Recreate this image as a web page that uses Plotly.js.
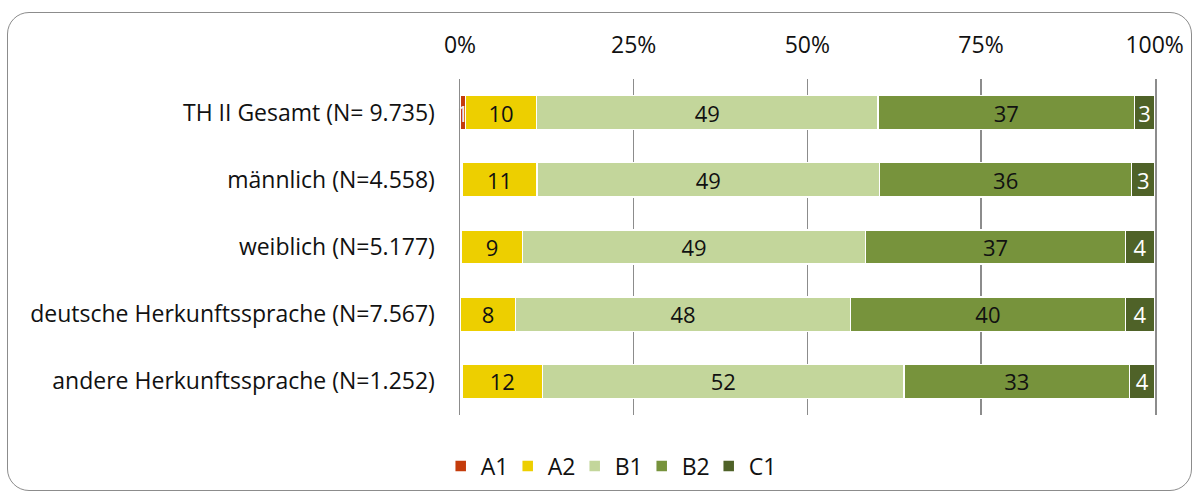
<!DOCTYPE html>
<html>
<head>
<meta charset="utf-8">
<script src="https://cdn.plot.ly/plotly-3.0.1.min.js"></script>
<style>
  html, body { margin:0; padding:0; background:#fff; }
  #wrap { position:relative; width:1202px; height:499px; }
  #chart { width:1202px; height:499px; }
  #frame { position:absolute; left:7px; top:12px; width:1185px; height:479px;
           border:1.5px solid #8c8c8c; border-radius:22px; pointer-events:none; box-sizing:border-box; }
</style>
</head>
<body>
<div id="wrap">
  <div id="chart"></div>
  <div id="frame"></div>
</div>
<script>
const categories = [
  'TH II Gesamt (N= 9.735)',
  'männlich (N=4.558)',
  'weiblich (N=5.177)',
  'deutsche Herkunftssprache (N=7.567)',
  'andere Herkunftssprache (N=1.252)'
];
const seriesNames = ['A1', 'A2', 'B1', 'B2', 'C1'];
const A1 = [0.8, 0.3, 0.2, 0.1, 0.3];
const A2 = [10.2, 10.8, 8.8, 7.9, 11.6];
const B1 = [49.2, 49.3, 49.4, 48.2, 52.0];
const B2 = [36.9, 36.3, 37.4, 39.6, 32.5];
const C1 = [2.9, 3.3, 4.2, 4.2, 3.6];
const A1labels = ['1', '', '', '', ''];
const tickLabels = ['0%', '25%', '50%', '75%', '100%'];
const tickValues = [0, 25, 50, 75, 100];

const colors = ['#C43C0C', '#EDCF00', '#C3D69B', '#77933C', '#4F6228'];
const textColors = ['#f2f2f2', '#111111', '#111111', '#111111', '#ffffff'];
const values = [A1, A2, B1, B2, C1];
const FONT = 'Open Sans, Noto Sans, sans-serif';
const FS = 22;
const FS_CAT = 23;

const traces = values.map((v, i) => {
  const t = {
    type: 'bar',
    orientation: 'h',
    name: seriesNames[i],
    y: categories,
    x: v,
    marker: { color: colors[i], line: { color: '#ffffff', width: 1.5 } },
    textposition: 'inside',
    insidetextanchor: 'middle',
    textangle: 0,
    constraintext: 'none',
    textfont: { family: FONT, size: FS, color: textColors[i] },
    cliponaxis: false,
    hoverinfo: 'name+x'
  };
  if (i === 0) { t.text = A1labels; t.texttemplate = '%{text}'; }
  else { t.texttemplate = '%{x:.0f}'; }
  return t;
});

const layout = {
  width: 1202, height: 499,
  barmode: 'stack',
  bargap: 0.49,
  margin: { l: 460, r: 47, t: 79, b: 84, pad: 0 },
  paper_bgcolor: '#ffffff',
  plot_bgcolor: '#ffffff',
  font: { family: FONT, size: FS, color: '#111111' },
  uniformtext: { mode: 'show', minsize: FS },
  xaxis: {
    side: 'top',
    range: [0, 100.05],
    tickvals: tickValues,
    ticktext: tickLabels,
    showgrid: true,
    gridcolor: '#8c8c8c',
    gridwidth: 1.5,
    zeroline: false,
    showline: false,
    ticks: '',
    ticklabelstandoff: 20,
    tickfont: { family: FONT, size: FS_CAT, color: '#111111' },
    fixedrange: true
  },
  yaxis: {
    autorange: 'reversed',
    showgrid: false,
    zeroline: false,
    showline: true,
    mirror: true,
    linecolor: '#8c8c8c',
    linewidth: 1.5,
    ticks: '',
    ticklabelstandoff: 19,
    tickfont: { family: FONT, size: FS_CAT, color: '#111111' },
    fixedrange: true
  },
  showlegend: true,
  legend: {
    orientation: 'h',
    xref: 'container', yref: 'container',
    x: 0.506, xanchor: 'center',
    y: 0.066, yanchor: 'middle',
    font: { family: FONT, size: FS_CAT, color: '#111111' },
    itemwidth: 30,
    entrywidth: 22,
    traceorder: 'normal'
  }
};

Plotly.newPlot('chart', traces, layout, { displayModeBar: false, staticPlot: true });
</script>
</body>
</html>
